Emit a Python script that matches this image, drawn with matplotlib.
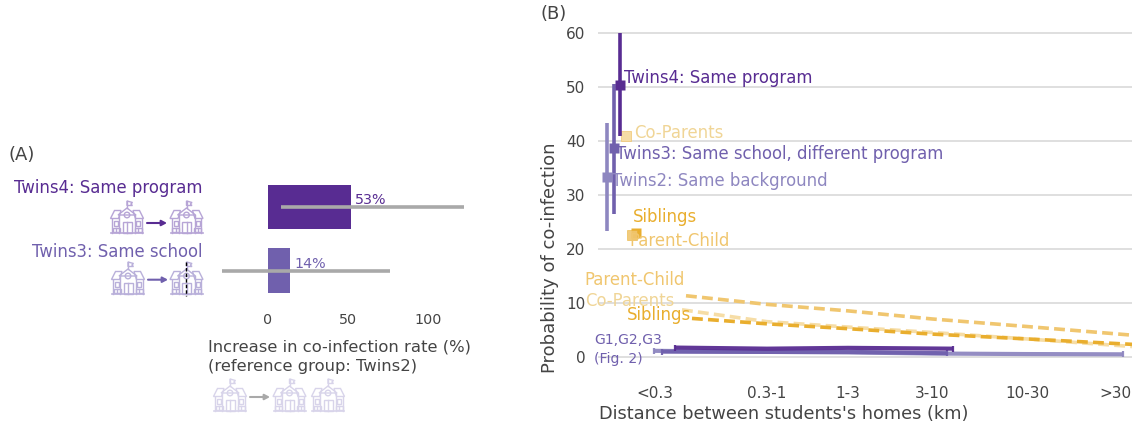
"""Co-infection among twins and relatives: bars (A) and distance curves (B)."""

import matplotlib
matplotlib.use('Agg')
import matplotlib.pyplot as plt
from matplotlib.patches import Circle, Polygon, Rectangle

W, H = 1132, 428
DPI = 100

# --- Data ---

# Panel A
groups_a = ['Twins4', 'Twins3']
increase = [52, 14]
increase_low = [8, -28.5]
increase_high = [122.5, 76.5]
increase_labels = ['53%', '14%']
ticks_a = [0, 50, 100]

# Panel B, vertical estimates
twins_x = [0.087, 0.157, 0.217]
twins_y = [33.4, 38.7, 50.5]
twins_low = [23.3, 26.6, 41.0]
twins_high = [43.4, 50.7, 60.0]

coparent_point = (0.28, 41.0)
sibling_point = (0.38, 23.1)
parentchild_point = (0.34, 22.7)

# Panel B, distance curves
dist_ticks = [0.57, 1.69, 2.50, 3.34, 4.29, 5.17]
dist_labels = ['<0.3', '0.3-1', '1-3', '3-10', '10-30', '>30']

pc_x = [0.88, 1.69, 2.50, 3.34, 4.29, 5.34]
pc_y = [11.4, 9.8, 8.6, 7.1, 5.7, 4.1]
sib_x = [0.94, 1.69, 2.50, 3.34, 4.29, 5.34]
sib_y = [7.2, 6.2, 5.3, 4.3, 3.4, 2.4]
cop_x = [0.84, 1.69, 2.50, 3.34, 4.29, 5.34]
cop_y = [8.8, 6.6, 5.6, 4.6, 3.4, 2.0]

g1_x = [0.56, 1.69, 2.50, 3.34, 4.29, 5.25]
g1_y = [1.2, 1.0, 0.9, 0.7, 0.6, 0.55]
g2_x = [0.64, 1.69, 2.50, 3.49]
g2_y = [1.05, 1.0, 1.0, 0.75]
g3_x = [0.77, 1.69, 2.50, 3.55]
g3_y = [1.8, 1.6, 1.75, 1.6]

# --- Colours ---
DARK = '#582c92'
MID = '#7060ad'
LIGHT = '#8e87c0'
ORANGE = '#e9ae2e'
PC_COL = '#f0c66f'
COP_COL = '#f6dda6'
TEXT = '#444444'
GREY = '#a9a9a9'
GRID = '#d6d6d6'


def px_axes(fig, left, top, right, bottom):
    """Axes placed with pixel coordinates of the final image."""
    return fig.add_axes([left / W, 1 - bottom / H, (right - left) / W, (bottom - top) / H])


def draw_school(ax, cx, top, color):
    """Small school icon, 33 px wide and 32 px high."""
    lw = 1.0
    kw = dict(fill=False, edgecolor=color, linewidth=lw)

    def xy(pts):
        return [(cx + a, top + b) for a, b in pts]

    ax.plot(*zip(*xy([(0, 0), (0, 7)])), color=color, lw=lw)
    ax.add_patch(Polygon(xy([(0, 0), (5.5, 1.5), (3.8, 3), (5.5, 4.5), (0, 4.5)]), **kw))
    ax.add_patch(Polygon(xy([(-9, 14), (0, 7), (9, 14)]), **kw))
    ax.add_patch(Circle((cx, top + 14), 2.8, **kw))
    for s in (-1, 1):
        ax.add_patch(Polygon(xy([(s * 6, 9.5), (s * 12.5, 9.5), (s * 16.5, 17.5), (s * 8.5, 17.5)]), **kw))
        ax.add_patch(Rectangle((cx + s * 11 - 2, top + 19.5), 4, 5.5, **kw))
        ax.add_patch(Rectangle((cx + s * 11 - 3.5, top + 27), 7, 4, **kw))
        ax.plot([cx + s * 11] * 2, [top + 27, top + 31], color=color, lw=lw)
        ax.plot([cx + s * 8] * 2, [top + 14, top + 32], color=color, lw=lw)
        ax.plot([cx + s * 14.8] * 2, [top + 17.5, top + 32], color=color, lw=lw)
    ax.add_patch(Rectangle((cx - 4.5, top + 21), 9, 11, **kw))
    ax.plot([cx, cx], [top + 21, top + 32], color=color, lw=lw)
    ax.plot([cx - 16, cx + 16], [top + 32, top + 32], color=color, lw=lw * 1.2)


def draw_arrow(ax, x0, x1, y, color):
    ax.annotate('', xy=(x1, y), xytext=(x0, y),
                arrowprops=dict(arrowstyle='-|>,head_width=0.16,head_length=0.3', color=color,
                                lw=1.5, shrinkA=0, shrinkB=0))


fig = plt.figure(figsize=(W / DPI, H / DPI), dpi=DPI)

# --- Panel A ---
ax_a = px_axes(fig, 215, 175, 470, 300)
ax_a.set_xlim(-33.1, 126.25)
ax_a.set_ylim(1.463, -0.5)
pos = list(range(len(groups_a)))
ax_a.barh(pos, increase, height=0.7, color=[DARK, MID], zorder=1)
ax_a.hlines(pos, increase_low, increase_high, color=GREY, lw=2.6, zorder=2)
for p, v, lab, col in zip(pos, increase, increase_labels, [DARK, MID]):
    ax_a.annotate(lab, (v, p), xytext=(3, 5), textcoords='offset points',
                  color=col, fontsize=10.3, va='center', ha='left', zorder=3)
ax_a.set_xticks(ticks_a)
ax_a.tick_params(axis='x', length=0, labelsize=10.3, labelcolor=TEXT, pad=9)
ax_a.set_yticks([])
for s in ax_a.spines.values():
    s.set_visible(False)

# --- Panel B ---
ax_b = px_axes(fig, 598, 27.9, 1132, 373.5)
ax_b.set_xlim(0, 5.34)
ax_b.set_ylim(-3, 61)
ax_b.set_yticks(range(0, 61, 10))
ax_b.yaxis.grid(True, color=GRID, lw=1.1, zorder=0)
ax_b.set_axisbelow(True)
ax_b.set_xticks(dist_ticks)
ax_b.set_xticklabels(dist_labels)
ax_b.tick_params(axis='both', length=0, labelsize=11, labelcolor=TEXT)
ax_b.tick_params(axis='y', pad=9)
ax_b.tick_params(axis='x', pad=9)
for s in ax_b.spines.values():
    s.set_visible(False)

dash = (0, (3.0, 1.45))
ax_b.plot(cop_x, cop_y, color=COP_COL, lw=2.6, ls=dash, dash_capstyle='butt', zorder=2)
ax_b.plot(pc_x, pc_y, color=PC_COL, lw=2.6, ls=dash, dash_capstyle='butt', zorder=2)
ax_b.plot(sib_x, sib_y, color=ORANGE, lw=2.6, ls=dash, dash_capstyle='butt', zorder=3)

for xs, ys, col, lw_g, z in [(g1_x, g1_y, LIGHT, 3.0, 3), (g2_x, g2_y, MID, 3.0, 4), (g3_x, g3_y, DARK, 3.0, 5)]:
    ax_b.plot(xs, ys, color=col, lw=lw_g, solid_capstyle='butt', alpha=0.95, zorder=z,
              marker='|', markevery=[0, len(xs) - 1], markersize=4.5, markeredgewidth=1.6)

for x, y, lo, hi, col in zip(twins_x, twins_y, twins_low, twins_high, [LIGHT, MID, DARK]):
    ax_b.vlines(x, lo, hi, color=col, lw=2.6, zorder=6)
    ax_b.plot([x], [y], marker='s', ms=7, color=col, mec='none', zorder=7)

ax_b.plot(*coparent_point, marker='s', ms=6.5, color=COP_COL, mec=PC_COL, mew=0.5, zorder=5)
ax_b.plot(*sibling_point, marker='s', ms=7, color=ORANGE, mec='none', zorder=5)
ax_b.plot(*parentchild_point, marker='s', ms=7, color=PC_COL, mec=ORANGE, mew=0.4, alpha=0.9, zorder=6)

# --- Overlay in pixel coordinates: free text and icons ---
ov = fig.add_axes([0, 0, 1, 1], facecolor='none')
ov.set_xlim(0, W)
ov.set_ylim(H, 0)
ov.axis('off')

LAB = 11.9


def label(x, y, s, color=TEXT, size=LAB, ha='left', **kw):
    ov.text(x, y, s, color=color, fontsize=size, ha=ha, va='center', **kw)


label(9, 155, '(A)', size=13)
label(541, 14, '(B)', size=13)
label(203, 188, 'Twins4: Same program', DARK, ha='right')
label(203, 252, 'Twins3: Same school', MID, ha='right')
label(208, 346.5, 'Increase in co-infection rate (%)', size=11.8)
label(208, 367, '(reference group: Twins2)', size=11.8)

label(624, 78, 'Twins4: Same program', DARK)
label(634, 133, 'Co-Parents', '#f0d596')
label(616.5, 154, 'Twins3: Same school, different program', MID)
label(612, 181, 'Twins2: Same background', LIGHT)
label(632.5, 216.5, 'Siblings', ORANGE)
label(629, 240.5, 'Parent-Child', PC_COL)
label(584, 280, 'Parent-Child', PC_COL)
label(585, 300.5, 'Co-Parents', '#f0d596')
label(626.5, 315, 'Siblings', ORANGE)
label(594, 340, 'G1,G2,G3', MID, size=10.1)
label(594, 359, '(Fig. 2)', MID, size=10.1)

label(550, 258, 'Probability of co-infection', rotation=90, size=13, ha='center')
label(599, 414, "Distance between students's homes (km)", size=12.8)

# icons
ICON_A = '#b7a5d6'
ICON_B = '#b9b0da'
ICON_C = '#d8d4ea'
draw_school(ov, 127, 201, ICON_A)
draw_school(ov, 186.5, 201, ICON_A)
draw_arrow(ov, 147, 167, 223, DARK)
draw_school(ov, 128, 262, ICON_B)
draw_school(ov, 186.5, 262, ICON_B)
draw_arrow(ov, 148, 168, 279.7, MID)
ov.plot([186, 186], [262, 296], color='black', lw=1, ls=(0, (2.5, 1.5)))
draw_school(ov, 230, 379, ICON_C)
draw_school(ov, 289.5, 379, ICON_C)
draw_school(ov, 328, 379, ICON_C)
draw_arrow(ov, 250, 270, 397, GREY)

fig.savefig('out.png', dpi=DPI)
plt.close(fig)
